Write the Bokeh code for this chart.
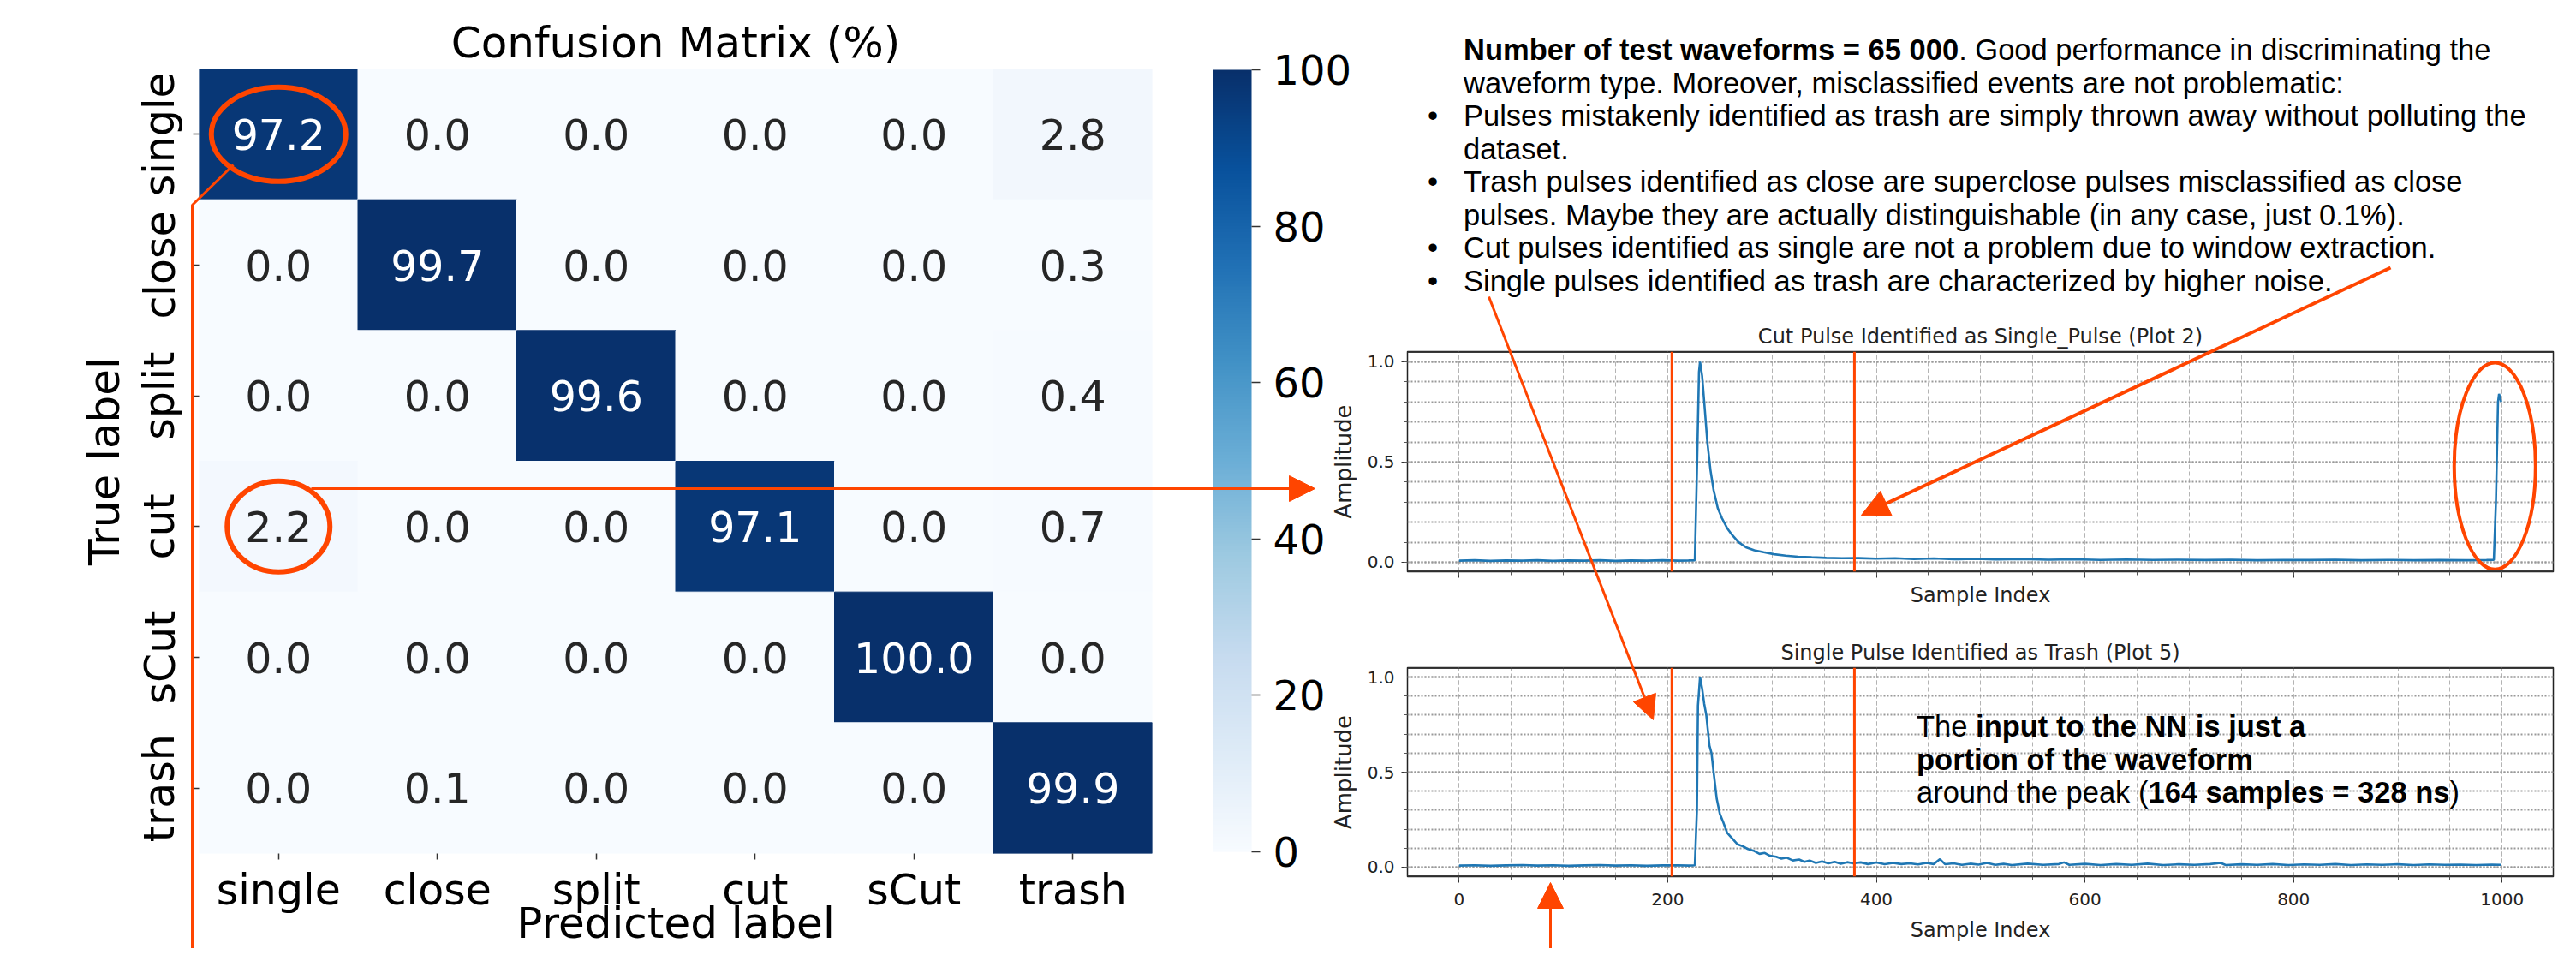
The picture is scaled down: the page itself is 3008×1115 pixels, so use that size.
from bokeh.plotting import figure
from bokeh.models import (ColumnDataSource, FactorRange, Range1d, LinearColorMapper, ColorBar,
                          FixedTicker, SingleIntervalTicker, Arrow, NormalHead, Span, Div,
                          PrintfTickFormatter)
from bokeh.palettes import Blues256
from bokeh.transform import transform
from bokeh.core.properties import value
from bokeh.embed import file_html
from bokeh.resources import INLINE

# ---------------- data ----------------
classes = ["single", "close", "split", "cut", "sCut", "trash"]
row_single = [97.2, 0.0, 0.0, 0.0, 0.0, 2.8]
row_close = [0.0, 99.7, 0.0, 0.0, 0.0, 0.3]
row_split = [0.0, 0.0, 99.6, 0.0, 0.0, 0.4]
row_cut = [2.2, 0.0, 0.0, 97.1, 0.0, 0.7]
row_scut = [0.0, 0.0, 0.0, 0.0, 100.0, 0.0]
row_trash = [0.0, 0.1, 0.0, 0.0, 0.0, 99.9]
colorbar_ticks = [0, 20, 40, 60, 80, 100]

# (sample index, amplitude)
wave_cut_pulse = [
    (0, 0.008), (15, 0.010), (30, 0.007), (45, 0.009), (60, 0.008), (75, 0.010), (90, 0.007),
    (105, 0.009), (120, 0.008), (135, 0.010), (150, 0.007), (165, 0.009), (180, 0.008),
    (195, 0.010), (210, 0.008), (220, 0.009), (226, 0.010), (228, 0.45), (230, 0.95), (231, 1.00),
    (233, 0.93), (235, 0.80), (238, 0.60), (241, 0.46), (244, 0.36), (248, 0.27), (252, 0.22),
    (257, 0.17), (262, 0.135), (268, 0.10), (275, 0.075), (283, 0.060), (292, 0.050), (302, 0.040),
    (313, 0.033), (325, 0.028), (338, 0.025), (352, 0.022), (367, 0.020), (383, 0.021), (400, 0.018),
    (418, 0.020), (436, 0.016), (455, 0.019), (475, 0.015), (495, 0.017), (515, 0.014), (540, 0.016),
    (565, 0.013), (590, 0.015), (615, 0.012), (640, 0.014), (665, 0.012), (690, 0.013), (715, 0.011),
    (740, 0.013), (765, 0.010), (790, 0.012), (815, 0.011), (840, 0.013), (865, 0.010), (890, 0.012),
    (915, 0.010), (940, 0.011), (965, 0.010), (985, 0.011), (992, 0.012), (994, 0.30), (996, 0.80),
    (997, 0.84), (998, 0.82), (999, 0.80),
]
wave_single_pulse = [
    (0, 0.008), (15, 0.010), (30, 0.007), (45, 0.009), (60, 0.011), (75, 0.008), (90, 0.010),
    (105, 0.007), (120, 0.009), (135, 0.011), (150, 0.008), (165, 0.010), (180, 0.007), (195, 0.009),
    (210, 0.010), (220, 0.008), (226, 0.010), (228, 0.30), (229, 0.85), (231, 1.00), (233, 0.94),
    (235, 0.86), (237, 0.80), (240, 0.64), (242, 0.60), (244, 0.50), (247, 0.36), (250, 0.28),
    (253, 0.24), (257, 0.18), (262, 0.15), (267, 0.12), (272, 0.11), (277, 0.095), (283, 0.085),
    (288, 0.070), (293, 0.075), (298, 0.060), (304, 0.055), (309, 0.045), (314, 0.050), (320, 0.035),
    (326, 0.040), (331, 0.028), (336, 0.035), (342, 0.022), (348, 0.030), (354, 0.020), (360, 0.028),
    (366, 0.018), (372, 0.026), (378, 0.020), (385, 0.025), (392, 0.016), (400, 0.024), (408, 0.015),
    (416, 0.022), (424, 0.016), (432, 0.020), (440, 0.014), (448, 0.022), (455, 0.016), (461, 0.042),
    (466, 0.015), (474, 0.020), (482, 0.012), (490, 0.018), (498, 0.013), (506, 0.022), (514, 0.012),
    (522, 0.017), (530, 0.011), (545, 0.018), (560, 0.012), (575, 0.016), (580, 0.025), (585, 0.012),
    (600, 0.017), (615, 0.011), (630, 0.016), (645, 0.012), (660, 0.018), (675, 0.011), (690, 0.015),
    (705, 0.012), (720, 0.016), (730, 0.022), (735, 0.011), (750, 0.015), (765, 0.012), (780, 0.016),
    (795, 0.011), (810, 0.014), (825, 0.012), (840, 0.016), (855, 0.011), (870, 0.014), (885, 0.012),
    (900, 0.015), (915, 0.011), (930, 0.014), (945, 0.012), (960, 0.013), (975, 0.011), (990, 0.013),
    (999, 0.012),
]
window_edges = [204, 379]            # NN input window (sample index)
wave_y_ticks = [0.0, 0.5, 1.0]
wave_y_minor = [0.0, 0.1, 0.2, 0.3, 0.4, 0.5, 0.6, 0.7, 0.8, 0.9, 1.0]

text_lines = [
    ("", "<b>Number of test waveforms = 65 000</b>. Good performance in discriminating the"),
    ("", "waveform type. Moreover, misclassified events are not problematic:"),
    ("\u2022", "Pulses mistakenly identified as trash are simply thrown away without polluting the"),
    ("", "dataset."),
    ("\u2022", "Trash pulses identified as close are superclose pulses misclassified as close"),
    ("", "pulses. Maybe they are actually distinguishable (in any case, just 0.1%)."),
    ("\u2022", "Cut pulses identified as single are not a problem due to window extraction."),
    ("\u2022", "Single pulses identified as trash are characterized by higher noise."),
]
note_lines = [
    "The <b>input to the NN is just a</b>",
    "<b>portion of the waveform</b>",
    "around the peak (<b>164 samples = 328 ns</b>)",
]

# ---------------- styling / layout ----------------
W, H = 2992, 1099
ORANGE = "#FF4500"
DJ = "DejaVu Sans"
LIB = "Liberation Sans"

def place(z):
    # every root is pinned to the page's content origin; later roots lie on top
    return {"position": "absolute", "left": "8px", "top": "8px", "z-index": str(z)}

# heat map
rows = [row_single, row_close, row_split, row_cut, row_scut, row_trash]
xs, ys, vs = [], [], []
for true_lbl, row in zip(classes, rows):
    for pred_lbl, v in zip(classes, row):
        xs.append(pred_lbl)
        ys.append(true_lbl)
        vs.append(v)
src = ColumnDataSource(dict(x=xs, y=ys, v=vs, t=[f"{v:.1f}" for v in vs],
                            c=["#ffffff" if v > 50 else "#262626" for v in vs]))

pal = list(Blues256)
def _lum(h):
    return int(h[1:3], 16) + int(h[3:5], 16) + int(h[5:7], 16)
if _lum(pal[0]) < _lum(pal[-1]):
    pal = pal[::-1]
mapper = LinearColorMapper(palette=pal, low=0, high=100)

HM_L, HM_R, HM_T, HM_B = 224, 1337, 72, 988
hm = figure(frame_width=HM_R - HM_L, frame_height=HM_B - HM_T,
            x_range=FactorRange(factors=classes), y_range=FactorRange(factors=classes[::-1]),
            output_backend="svg", toolbar_location=None, tools="",
            min_border_left=HM_L, min_border_right=W - HM_R, min_border_top=HM_T,
            min_border_bottom=H - HM_B, background_fill_color=None, border_fill_color=None,
            outline_line_color=None, styles=place(1))
hm.rect(x="x", y="y", width=1, height=1, source=src, fill_color=transform("v", mapper),
        line_color=transform("v", mapper), line_width=1)
hm.text(x="x", y="y", text="t", text_color="c", source=src, text_font=value(DJ),
        text_font_size="49px", text_align="center", text_baseline="middle")
hm.ellipse(x=["single"], y=["single"], width=157, height=110, width_units="screen",
           height_units="screen", fill_color=None, line_color=ORANGE, line_width=6)
hm.ellipse(x=["single"], y=["cut"], width=120, height=106, width_units="screen",
           height_units="screen", fill_color=None, line_color=ORANGE, line_width=6)
hm.title.text = "Confusion Matrix (%)"
hm.title.align = "center"
hm.title.text_font = DJ
hm.title.text_font_size = "50px"
hm.title.text_font_style = "normal"
hm.title.text_color = "#000000"
hm.title.standoff = 4
hm.xgrid.visible = False
hm.ygrid.visible = False
for ax in (hm.xaxis[0], hm.yaxis[0]):
    ax.axis_line_color = None
    ax.major_tick_in = 0
    ax.major_tick_out = 7
    ax.major_tick_line_color = "#333333"
    ax.major_tick_line_width = 1.5
    ax.major_label_text_font = DJ
    ax.major_label_text_font_size = "49px"
    ax.major_label_text_color = "#000000"
    ax.axis_label_text_font = DJ
    ax.axis_label_text_font_size = "50px"
    ax.axis_label_text_font_style = "normal"
    ax.axis_label_text_color = "#000000"
hm.xaxis.major_label_standoff = 7
hm.yaxis.major_label_standoff = 10
hm.yaxis.major_label_orientation = "vertical"
hm.yaxis.axis_label = "True label"
hm.yaxis.axis_label_standoff = 5

# colour bar, hosted by a figure whose (empty) frame ends where the bar starts
CB_X, CB_T, CB_B = 1408, 73, 986
cbf = figure(frame_width=10, frame_height=CB_B - CB_T, x_range=Range1d(0, 1),
             y_range=Range1d(0, 1), x_axis_type=None, y_axis_type=None,
             output_backend="svg", toolbar_location=None, tools="",
             min_border_left=CB_X - 10, min_border_right=W - CB_X, min_border_top=CB_T,
             min_border_bottom=H - CB_B, background_fill_color=None, border_fill_color=None,
             outline_line_color=None, styles=place(2))
cb = ColorBar(color_mapper=mapper, ticker=FixedTicker(ticks=colorbar_ticks), width=45,
              padding=0, margin=0, major_tick_in=0, major_tick_out=10,
              major_tick_line_color="#333333", major_tick_line_width=1.5,
              major_label_text_font=DJ, major_label_text_font_size="48px",
              major_label_text_color="#000000", label_standoff=15, bar_line_color=None,
              border_line_color=None, background_fill_color=None, minor_tick_line_color=None)
cbf.add_layout(cb, "right")

# waveform panels
WF_L, WF_R = 1635, 2973

def wave_fig(pairs, top, bottom, title, y0, y1, show_labels, z):
    p = figure(frame_width=WF_R - WF_L, frame_height=bottom - top,
               x_range=Range1d(-49.5, 1049), y_range=Range1d(y0, y1),
               output_backend="svg", toolbar_location=None, tools="",
               min_border_left=WF_L, min_border_right=W - WF_R, min_border_top=top,
               min_border_bottom=H - bottom, background_fill_color=None,
               border_fill_color=None, outline_line_color="#222222", outline_line_width=1.5,
               styles=place(z))
    p.line(x=[a for a, _ in pairs], y=[b for _, b in pairs], line_color="#1f77b4", line_width=2.6)
    p.title.text = title
    p.title.align = "center"
    p.title.text_font = DJ
    p.title.text_font_size = "24px"
    p.title.text_font_style = "normal"
    p.title.text_color = "#222222"
    p.title.standoff = 8
    p.xaxis.ticker = SingleIntervalTicker(interval=200, num_minor_ticks=4)
    p.yaxis.ticker = FixedTicker(ticks=wave_y_ticks, minor_ticks=wave_y_minor)
    p.yaxis.formatter = PrintfTickFormatter(format="%.1f")
    for ax in (p.xaxis[0], p.yaxis[0]):
        ax.axis_line_color = None
        ax.major_tick_in = 0
        ax.major_tick_out = 7
        ax.minor_tick_in = 0
        ax.minor_tick_out = 4
        ax.major_tick_line_color = "#333333"
        ax.minor_tick_line_color = "#555555"
        ax.major_label_text_font = DJ
        ax.major_label_text_font_size = "20px"
        ax.major_label_text_color = "#222222"
        ax.axis_label_text_font = DJ
        ax.axis_label_text_font_size = "24px"
        ax.axis_label_text_font_style = "normal"
        ax.axis_label_text_color = "#222222"
    p.xaxis.axis_label = "Sample Index"
    p.yaxis.axis_label = "Amplitude"
    p.yaxis.axis_label_text_font_size = "26px"
    p.yaxis.major_label_standoff = 8
    p.yaxis.axis_label_standoff = 10
    if show_labels:
        p.xaxis.major_label_standoff = 12
        p.xaxis.axis_label_standoff = 12
    else:
        p.xaxis.major_label_text_alpha = 0
        p.xaxis.major_label_text_font_size = "4px"
        p.xaxis.major_label_standoff = 0
        p.xaxis.axis_label_standoff = 6
    p.xgrid.grid_line_color = "#b4b4b4"
    p.xgrid.grid_line_dash = "5 3"
    p.xgrid.minor_grid_line_color = "#b4b4b4"
    p.xgrid.minor_grid_line_dash = "5 3"
    p.ygrid.grid_line_color = "#999999"
    p.ygrid.grid_line_dash = "2 2"
    p.ygrid.grid_line_width = 1.8
    p.ygrid.minor_grid_line_color = "#999999"
    p.ygrid.minor_grid_line_dash = "2 2"
    p.ygrid.minor_grid_line_width = 1.8
    # heavier top and bottom spines, as in the pasted images
    for yb in (y0, y1):
        p.add_layout(Span(location=yb, dimension="width", line_color="#3a3a3a", line_width=3))
    for xe in window_edges:
        p.add_layout(Span(location=xe, dimension="height", line_color=ORANGE, line_width=3))
    return p

p1 = wave_fig(wave_cut_pulse, 402, 659, "Cut Pulse Identified as Single_Pulse (Plot 2)",
              -0.047, 1.051, False, 3)
p1.ellipse(x=[993], y=[0.48], width=78, height=1.03, fill_color=None, line_color=ORANGE,
           line_width=4)
p2 = wave_fig(wave_single_pulse, 771, 1015, "Single Pulse Identified as Trash (Plot 5)",
              -0.05, 1.05, True, 4)

# slide text
parts = [f"<div style=\"font-family:'{LIB}',Arial,sans-serif;font-size:34.5px;line-height:38.5px;"
         "color:#000;padding:26px 0 0 1696px;white-space:nowrap;\">"]
for bullet, txt in text_lines:
    if bullet:
        parts.append(f"<div><span style=\"display:inline-block;width:42px;margin-left:-42px;\">"
                     f"{bullet}</span>{txt}</div>")
    else:
        parts.append(f"<div>{txt}</div>")
parts.append("<div style=\"height:482px\"></div><div style=\"margin-left:529px\">")
for txt in note_lines:
    parts.append(f"<div>{txt}</div>")
parts.append("</div></div>")
div = Div(text="".join(parts), width=W, height=H, styles=place(5))

# annotation overlay (screen-pixel coordinates of the slide)
ov = figure(frame_width=W, frame_height=H, x_range=Range1d(0, W), y_range=Range1d(H, 0),
            min_border=0, x_axis_type=None, y_axis_type=None, toolbar_location=None, tools="",
            output_backend="svg", background_fill_color=None, border_fill_color=None,
            outline_line_color=None, styles=place(6))
ov.line(x=[264, 216, 216], y=[184, 231, H], line_color=ORANGE, line_width=3)
arrows = [
    ((355, 562), (1527, 562), 3, 30),
    ((2783, 304), (2165, 593), 4, 32),
    ((1730, 338), (1922, 832), 3, 28),
    ((1802, H), (1802, 1022), 3, 30),
]
for (xa, ya), (xb, yb), lw, hs in arrows:
    ov.add_layout(Arrow(x_start=xa, y_start=ya, x_end=xb, y_end=yb, line_color=ORANGE,
                        line_width=lw, end=NormalHead(size=hs, fill_color=ORANGE,
                                                      line_color=ORANGE, line_width=1)))
# x-axis title of the heat map (placed here: it runs into the slide's bottom edge)
ov.text(x=[(HM_L + HM_R) / 2], y=[1069], text=["Predicted label"], text_font=value(DJ),
        text_font_size="50px", text_align="center", text_baseline="middle",
        text_color="#000000")

open("out.html", "w").write(file_html([hm, cbf, p1, p2, div, ov], INLINE))
